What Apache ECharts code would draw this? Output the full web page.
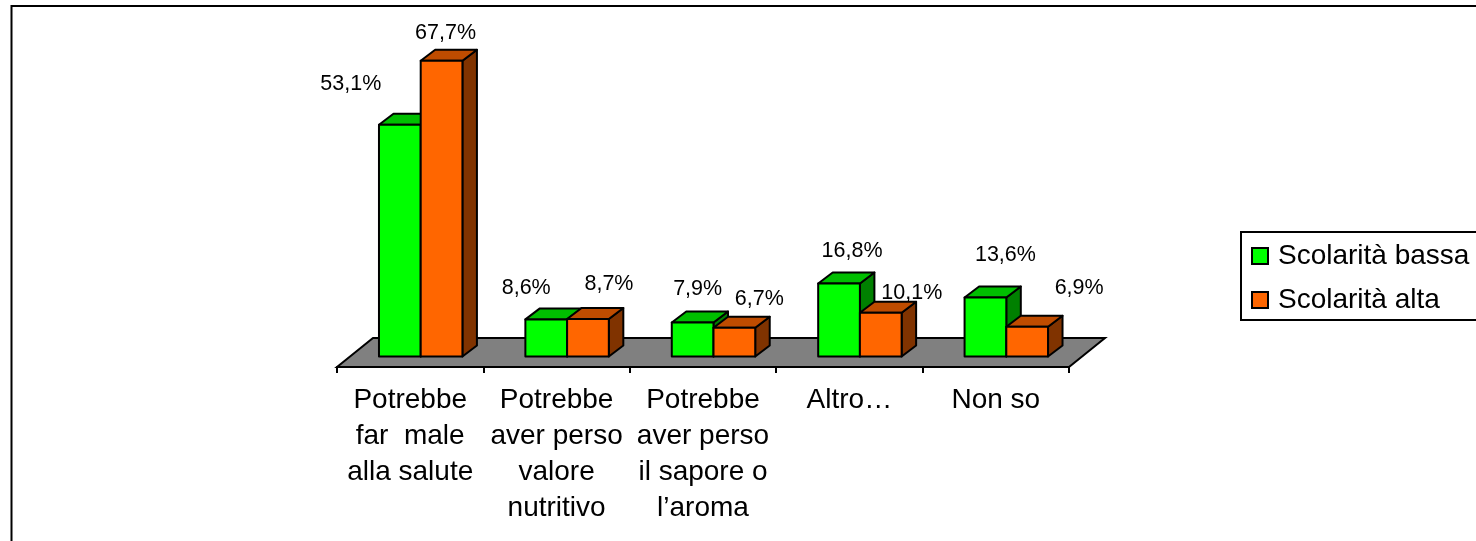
<!DOCTYPE html>
<html>
<head>
<meta charset="utf-8">
<style>html,body{margin:0;padding:0;background:#fff}#c{width:1476px;height:541px}</style>
<script src="https://cdn.jsdelivr.net/npm/echarts@6/dist/echarts.min.js"></script>
</head>
<body>
<div id="c"></div>
<script>
const categories = ["Potrebbe\nfar  male\nalla salute", "Potrebbe\naver perso\nvalore\nnutritivo", "Potrebbe\naver perso\nil sapore o\nl’aroma", "Altro…", "Non so"];
const scolaritaBassa = [53.1, 8.6, 7.9, 16.8, 13.6];
const scolaritaAlta = [67.7, 8.7, 6.7, 10.1, 6.9];
const seriesNames = ["Scolarità bassa", "Scolarità alta"];

// Hand-placed label offsets, from the top-front centre of each bar
const bassaLabelShift = [[-49, -41], [-20, -31], [5, -33], [13, -32], [20, -42]];
const altaLabelShift = [[4, -28], [21, -35], [25, -29], [31, -20], [52, -39]];

const FONT = '"Liberation Sans", Arial, sans-serif';
const STROKE = { stroke: '#000', lineWidth: 2, lineJoin: 'round' };

function fmt(v) { return v.toFixed(1).replace('.', ',') + '%'; }

function barRenderer(slot, faces, shifts) {
  return function (params, api) {
    const i = api.value(0), v = api.value(1);
    const band = api.size([1, 0])[0];
    const w = band * 0.285;
    const base = api.coord([i, 0]);
    const top = api.coord([i, v]);
    const shiftX = 10.5, shiftY = 10.5, dx = 14.5, dy = 11;
    const x0 = base[0] + shiftX + (slot === 0 ? -w : 0);
    const x1 = x0 + w;
    const yb = base[1] - shiftY;
    const yt = top[1] - shiftY + 0.5;
    const poly = (pts, fill) => ({ type: 'polygon', shape: { points: pts }, style: Object.assign({ fill: fill }, STROKE) });
    const s = shifts[i];
    return {
      type: 'group',
      children: [
        poly([[x1, yb], [x1 + dx, yb - dy], [x1 + dx, yt - dy], [x1, yt]], faces.side),
        poly([[x0, yt], [x0 + dx, yt - dy], [x1 + dx, yt - dy], [x1, yt]], faces.top),
        poly([[x0, yb], [x1, yb], [x1, yt], [x0, yt]], faces.front),
        { type: 'text', z2: 100, style: { text: fmt(v), x: (x0 + x1) / 2 + s[0], y: yt + s[1], align: 'center', verticalAlign: 'middle', fill: '#000', font: '21.5px ' + FONT } }
      ]
    };
  };
}

function floorRenderer(params, api) {
  const n = categories.length;
  const band = api.size([1, 0])[0];
  const a = api.coord([0, 0]), b = api.coord([n - 1, 0]);
  const xl = a[0] - band / 2, xr = b[0] + band / 2, y = a[1];
  const dx = 36, dy = 29;
  return {
    type: 'polygon',
    shape: { points: [[xl, y], [xl + dx, y - dy], [xr + dx, y - dy], [xr, y]] },
    style: { fill: '#808080', stroke: '#000', lineWidth: 2 }
  };
}

const chart = echarts.init(document.getElementById('c'), null, { renderer: 'canvas' });
chart.setOption({
  animation: false,
  backgroundColor: '#fff',
  graphic: [{
    type: 'rect', silent: true, z: -1,
    shape: { x: 11.5, y: 6, width: 1600, height: 700 },
    style: { fill: 'none', stroke: '#000', lineWidth: 2 }
  }],
  grid: { left: 337, width: 732, top: 17, height: 350 },
  legend: {
    left: 1241, top: 232, orient: 'vertical', icon: 'rect',
    data: seriesNames,
    itemWidth: 16, itemHeight: 16, itemGap: 13,
    padding: [8.5, 24, 4.5, 10],
    borderColor: '#000', borderWidth: 2,
    backgroundColor: '#fff',
    selectedMode: false,
    itemStyle: { borderColor: '#000', borderWidth: 2 },
    textStyle: { fontFamily: FONT, fontSize: 28, color: '#000', lineHeight: 28, padding: [3, 0, 0, 5] }
  },
  xAxis: {
    type: 'category', data: categories,
    axisLine: { show: true, lineStyle: { color: '#000', width: 2 } },
    axisTick: { show: true, length: 6, lineStyle: { color: '#000', width: 2 } },
    axisLabel: { interval: 0, margin: 15, fontFamily: FONT, fontSize: 28, lineHeight: 36, color: '#000' }
  },
  yAxis: { type: 'value', min: 0, max: 80, show: false },
  series: [
    { type: 'custom', name: 'floor', coordinateSystem: 'cartesian2d', clip: false, z: 1, silent: true,
      data: [[0, 0]], encode: { x: 0, y: 1 }, renderItem: floorRenderer },
    { type: 'custom', name: seriesNames[0], coordinateSystem: 'cartesian2d', clip: false, z: 2, silent: true,
      itemStyle: { color: '#00FF00' },
      data: scolaritaBassa.map((v, i) => [i, v]), encode: { x: 0, y: 1 },
      renderItem: barRenderer(0, { front: '#00FF00', top: '#00BF00', side: '#008000' }, bassaLabelShift) },
    { type: 'custom', name: seriesNames[1], coordinateSystem: 'cartesian2d', clip: false, z: 3, silent: true,
      itemStyle: { color: '#FF6600' },
      data: scolaritaAlta.map((v, i) => [i, v]), encode: { x: 0, y: 1 },
      renderItem: barRenderer(1, { front: '#FF6600', top: '#BF4C00', side: '#803300' }, altaLabelShift) }
  ]
});
</script>
</body>
</html>
